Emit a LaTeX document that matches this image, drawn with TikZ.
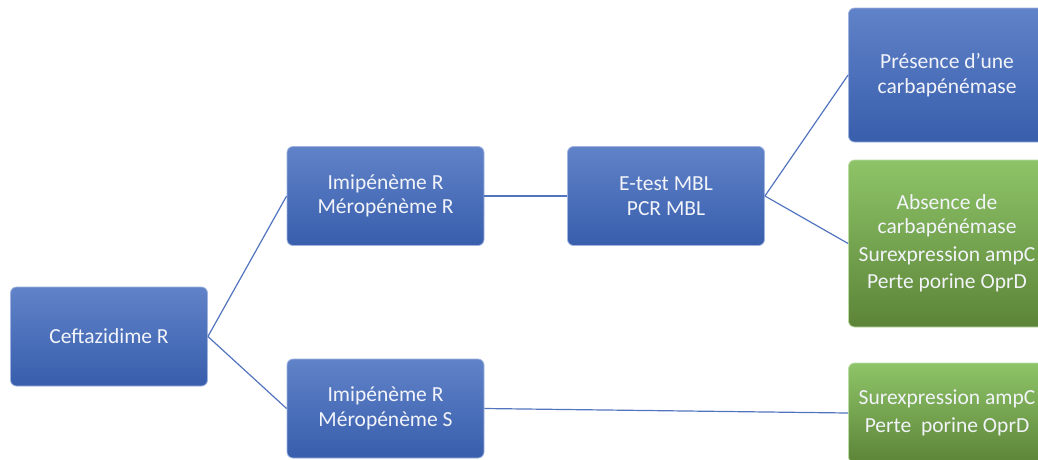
\documentclass[tikz,border=0pt]{standalone}
\usepackage{fontspec}
\setmainfont{Carlito}
\usetikzlibrary{positioning}

\definecolor{bluetop}{RGB}{96,130,200}
\definecolor{bluebot}{RGB}{56,94,172}
\definecolor{greentop}{RGB}{142,196,104}
\definecolor{greenbot}{RGB}{92,132,56}
\definecolor{linkblue}{RGB}{82,116,190}
\definecolor{boxtext}{RGB}{242,244,250}

\tikzset{
    bluebox/.style={rectangle,rounded corners=6pt,top color=bluetop,bottom color=bluebot,
        draw=bluetop!60!white,line width=0.8pt},
    greenbox/.style={rectangle,rounded corners=6pt,top color=greentop,bottom color=greenbot,
        draw=greentop!60!white,line width=0.8pt}
}

\begin{document}
\begin{tikzpicture}[x=1pt,y=-1pt]
        \useasboundingbox (0,0) rectangle (1038,459);
        \clip (0,0) rectangle (1038,459);

        \begin{scope}[every node/.style={text=boxtext,font=\fontsize{21.5}{24.5}\selectfont,
            align=center,minimum width=197pt,minimum height=99pt,inner sep=0pt}]
            \node[bluebox] (ceft) at (109,336.5) {Ceftazidime R};
            \node[bluebox] (imiRR) at (385.5,196) {Imipénème R\\Méropénème R};
            \node[bluebox] (imiRS) at (385.5,408.5) {Imipénème R\\Méropénème S};
            \node[bluebox] (etest) at (666,196) {E-test MBL\\PCR MBL};
            \node[bluebox,minimum height=134pt] (pres) at (947,75) {Présence d’une\\carbapénémase};
            \node[greenbox,minimum height=167pt] (abs) at (947,243.5)
                {Absence de\\carbapénémase\\[3pt]Surexpression ampC\\[3pt]Perte porine OprD};
            \node[greenbox,minimum height=100pt] (surex) at (947,413)
                {Surexpression ampC\\[3pt]Perte\ \ porine OprD};
        \end{scope}

        \begin{scope}[every edge/.style={draw=linkblue,line width=1.2pt}]
            \path [-] (ceft.east) edge (imiRR.west);
            \path [-] (ceft.east) edge (imiRS.west);
            \path [-] (imiRR.east) edge (etest.west);
            \path [-] (etest.east) edge (pres.west);
            \path [-] (etest.east) edge (abs.west);
            \path [-] (imiRS.east) edge (surex.west);
        \end{scope}
    \end{tikzpicture}
\end{document}
